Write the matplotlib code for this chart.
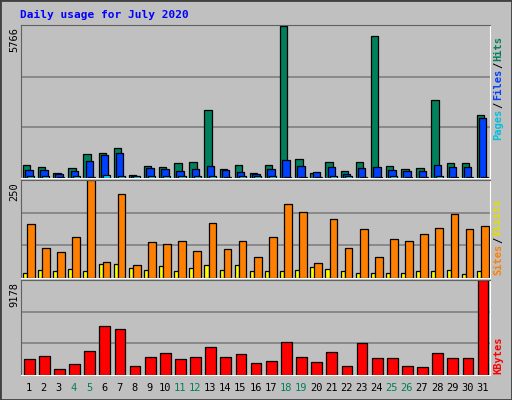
import matplotlib
matplotlib.use("Agg")
import matplotlib.pyplot as plt
from matplotlib.patches import Rectangle
import numpy as np

days = list(range(1, 32))
weekend_days = [4, 5, 11, 12, 18, 19, 25, 26]
hits = [510, 405, 196, 366, 902, 954, 1150, 118, 444, 405, 562, 601, 2562, 327, 484, 196,
        484, 5766, 719, 196, 601, 248, 601, 5385, 444, 327, 366, 2954, 562, 562, 2405]
files = [314, 288, 157, 248, 640, 876, 954, 92, 366, 327, 248, 327, 444, 288, 209, 157,
         327, 680, 444, 209, 405, 157, 366, 405, 288, 248, 248, 484, 405, 405, 2287]
pages = [90, 80, 40, 80, 40, 130, 90, 60, 90, 80, 90, 80, 90, 40, 80, 80,
         90, 40, 40, 40, 90, 80, 40, 40, 80, 40, 40, 90, 40, 40, 40]
visits = [139, 77, 66, 104, 250, 41, 215, 33, 93, 88, 96, 69, 142, 74, 96, 53,
          104, 191, 170, 39, 150, 77, 126, 53, 99, 96, 112, 128, 164, 126, 134]
sites = [14, 20, 17, 23, 17, 36, 36, 25, 20, 31, 17, 25, 34, 20, 34, 17,
         17, 17, 20, 28, 23, 17, 14, 14, 14, 14, 17, 17, 20, 9, 17]
kbytes = [1530, 1836, 612, 1020, 2346, 4794, 4488, 918, 1734, 2142, 1530, 1734, 2754, 1734,
          2040, 1122, 1326, 3162, 1734, 1224, 2244, 918, 3060, 1632, 1632, 918, 816, 2142,
          1632, 1632, 9178]
max_labels = ["5766", "250", "9178"]

BG = "#C0C0C0"
W, H = 512, 400
fig = plt.figure(figsize=(5.12, 4.0), dpi=100, facecolor=BG)
fig.patches.append(Rectangle((0, 0), 1, 1, transform=fig.transFigure, fill=False,
                             edgecolor="#404040", linewidth=2))
MONO = "DejaVu Sans Mono"

def ax_at(top, bottom):
    return fig.add_axes([21 / W, 1 - bottom / H, 469 / W, (bottom - top) / H])

x = np.array(days)
ax1 = ax_at(25, 178)
ax2 = ax_at(180, 278)
ax3 = ax_at(280, 375)
for ax, m in zip([ax1, ax2, ax3], [max(hits), max(visits), max(kbytes)]):
    ax.set_facecolor(BG)
    ax.set_xlim(0.5, 31.5)
    ax.set_ylim(0, m * 1.005)
    for f in (1 / 3, 2 / 3):
        ax.axhline(m * f, color="#808080", linewidth=1.2, zorder=0)
    ax.set_xticks([]); ax.set_yticks([])
    for s in ax.spines.values():
        s.set_color("white")
    ax.spines["left"].set_color("#606060")
    ax.spines["top"].set_color("#606060")

kw = dict(edgecolor="black", linewidth=0.9)
ax1.bar(x - 0.13, hits, 0.49, color="#00805C", **kw)
ax1.bar(x + 0.02, files, 0.49, color="#0040FF", **kw)
ax1.bar(x + 0.14, pages, 0.47, color="#00E0FF", **kw)
ax2.bar(x - 0.23, sites, 0.29, color="#FFFF00", **kw)
ax2.bar(x + 0.15, visits, 0.51, color="#FF8000", **kw)
ax3.bar(x + 0.04, kbytes, 0.71, color="#FF0000", **kw)

fig.text(20 / W, 1 - 15 / H, "Daily usage for July 2020", color="#0000FF",
         fontsize=8, fontweight="bold", family=MONO, va="center")

for lab, top in zip(max_labels, [27, 182, 282]):
    fig.text(14 / W, 1 - top / H, lab, rotation=90, fontsize=7.5, family=MONO,
             ha="center", va="top")

renderer = fig.canvas.get_renderer()

def side(pieces, bottom_y):
    y = bottom_y
    for txt, col in pieces:
        t = fig.text(498 / W, 1 - y / H, txt, rotation=90, color=col, fontsize=7.5,
                     family=MONO, fontweight="bold", ha="center", va="bottom")
        h = t.get_window_extent(renderer).height
        y -= h + 1

side([("Pages", "#00C0E0"), ("/", "black"), ("Files", "#0040FF"), ("/", "black"),
      ("Hits", "#00805C")], 140)
side([("Sites", "#FF8000"), ("/", "black"), ("Visits", "#E0E000")], 275)
side([("KBytes", "#FF0000")], 374)

for d in days:
    fig.text((21 + (d - 0.5) * 469 / 31) / W, 1 - 388 / H, str(d), fontsize=7.5,
             family=MONO, ha="center", va="center",
             color="#00805C" if d in weekend_days else "black")

fig.savefig("out.png", dpi=100, facecolor=BG)
